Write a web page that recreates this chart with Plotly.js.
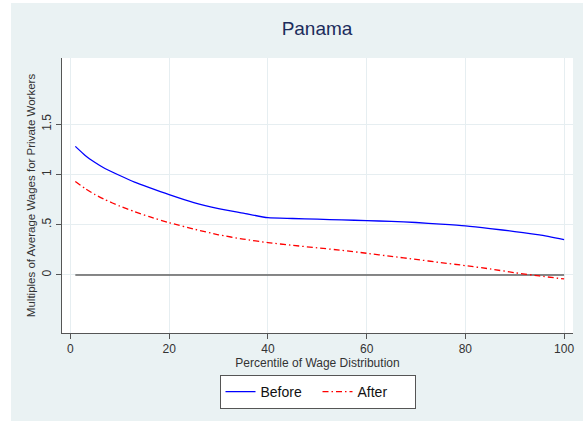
<!DOCTYPE html>
<html>
<head>
<meta charset="utf-8">
<script src="https://cdn.plot.ly/plotly-3.0.1.min.js"></script>
<style>
html,body{margin:0;padding:0;background:#ffffff;}
#chart{position:absolute;left:11px;top:3px;width:572px;height:418px;}
</style>
</head>
<body>
<div id="chart"></div>
<script>
var percentiles = [1,3,5,7,10,13,16,20,25,30,35,40,45,50,55,60,65,70,75,80,85,90,95,100];
var before = [1.28,1.19,1.12,1.06,0.99,0.925,0.87,0.8,0.72,0.66,0.615,0.57,0.562,0.555,0.548,0.541,0.533,0.522,0.506,0.488,0.462,0.432,0.398,0.352];
var after = [0.93,0.86,0.8,0.75,0.685,0.63,0.58,0.52,0.457,0.4,0.357,0.322,0.295,0.27,0.245,0.216,0.185,0.155,0.123,0.093,0.06,0.022,-0.01,-0.04];
var zeroX = [1,100];
var zeroY = [0,0];
var xTicks = [0,20,40,60,80,100];
var yTicks = [0,0.5,1,1.5];
var yTickLabels = ["0",".5","1","1.5"];

var traces = [
  {x: zeroX, y: zeroY, mode:'lines', line:{color:'#606060', width:1.5}, showlegend:false, hoverinfo:'skip'},
  {x: percentiles, y: before, name:'Before', mode:'lines', line:{color:'#0000ff', width:1.3, shape:'spline', smoothing:0.6}},
  {x: percentiles, y: after, name:'After', mode:'lines', line:{color:'#ff0000', width:1.3, dash:'6px,3px,1.5px,3px', shape:'spline', smoothing:0.6}}
];

var layout = {
  width:572, height:418,
  paper_bgcolor:'#eaf2f3', plot_bgcolor:'#ffffff',
  margin:{l:51, r:10, t:55, b:88},
  font:{family:'"Liberation Sans", Arial, sans-serif', color:'#333333', size:12},
  title:{text:'Panama', font:{size:19, color:'#1c2c5c'}, x:0.535, xanchor:'center', y:0.94, yanchor:'middle'},
  xaxis:{
    range:[-1.7,101.8], tickvals:xTicks, ticktext:xTicks.map(String),
    showgrid:true, gridcolor:'#e6eef1', gridwidth:1, zeroline:false,
    showline:true, linecolor:'#555555', linewidth:1,
    ticks:'outside', ticklen:5, tickcolor:'#555555',
    tickfont:{size:12, color:'#333333'},
    title:{text:'Percentile of Wage Distribution', font:{size:12, color:'#333333'}, standoff:2}
  },
  yaxis:{
    range:[-0.578,2.16], tickvals:yTicks, ticktext:yTickLabels, tickangle:-90,
    showgrid:true, gridcolor:'#e6eef1', gridwidth:1, zeroline:false,
    showline:true, linecolor:'#555555', linewidth:1,
    ticks:'outside', ticklen:5, tickcolor:'#555555',
    tickfont:{size:12, color:'#333333'},
    title:{text:'Multiples of Average Wages for Private Workers', font:{size:11.5, color:'#333333'}, standoff:2}
  },
  legend:{
    orientation:'h', x:0.5, xanchor:'center', y:-0.153, yanchor:'top',
    bgcolor:'#ffffff', bordercolor:'#555555', borderwidth:1,
    font:{size:14, color:'#111111'}, entrywidth:52, entrywidthmode:'pixels'
  },
  showlegend:true
};

Plotly.newPlot('chart', traces, layout, {displayModeBar:false, staticPlot:true});
</script>
</body>
</html>
